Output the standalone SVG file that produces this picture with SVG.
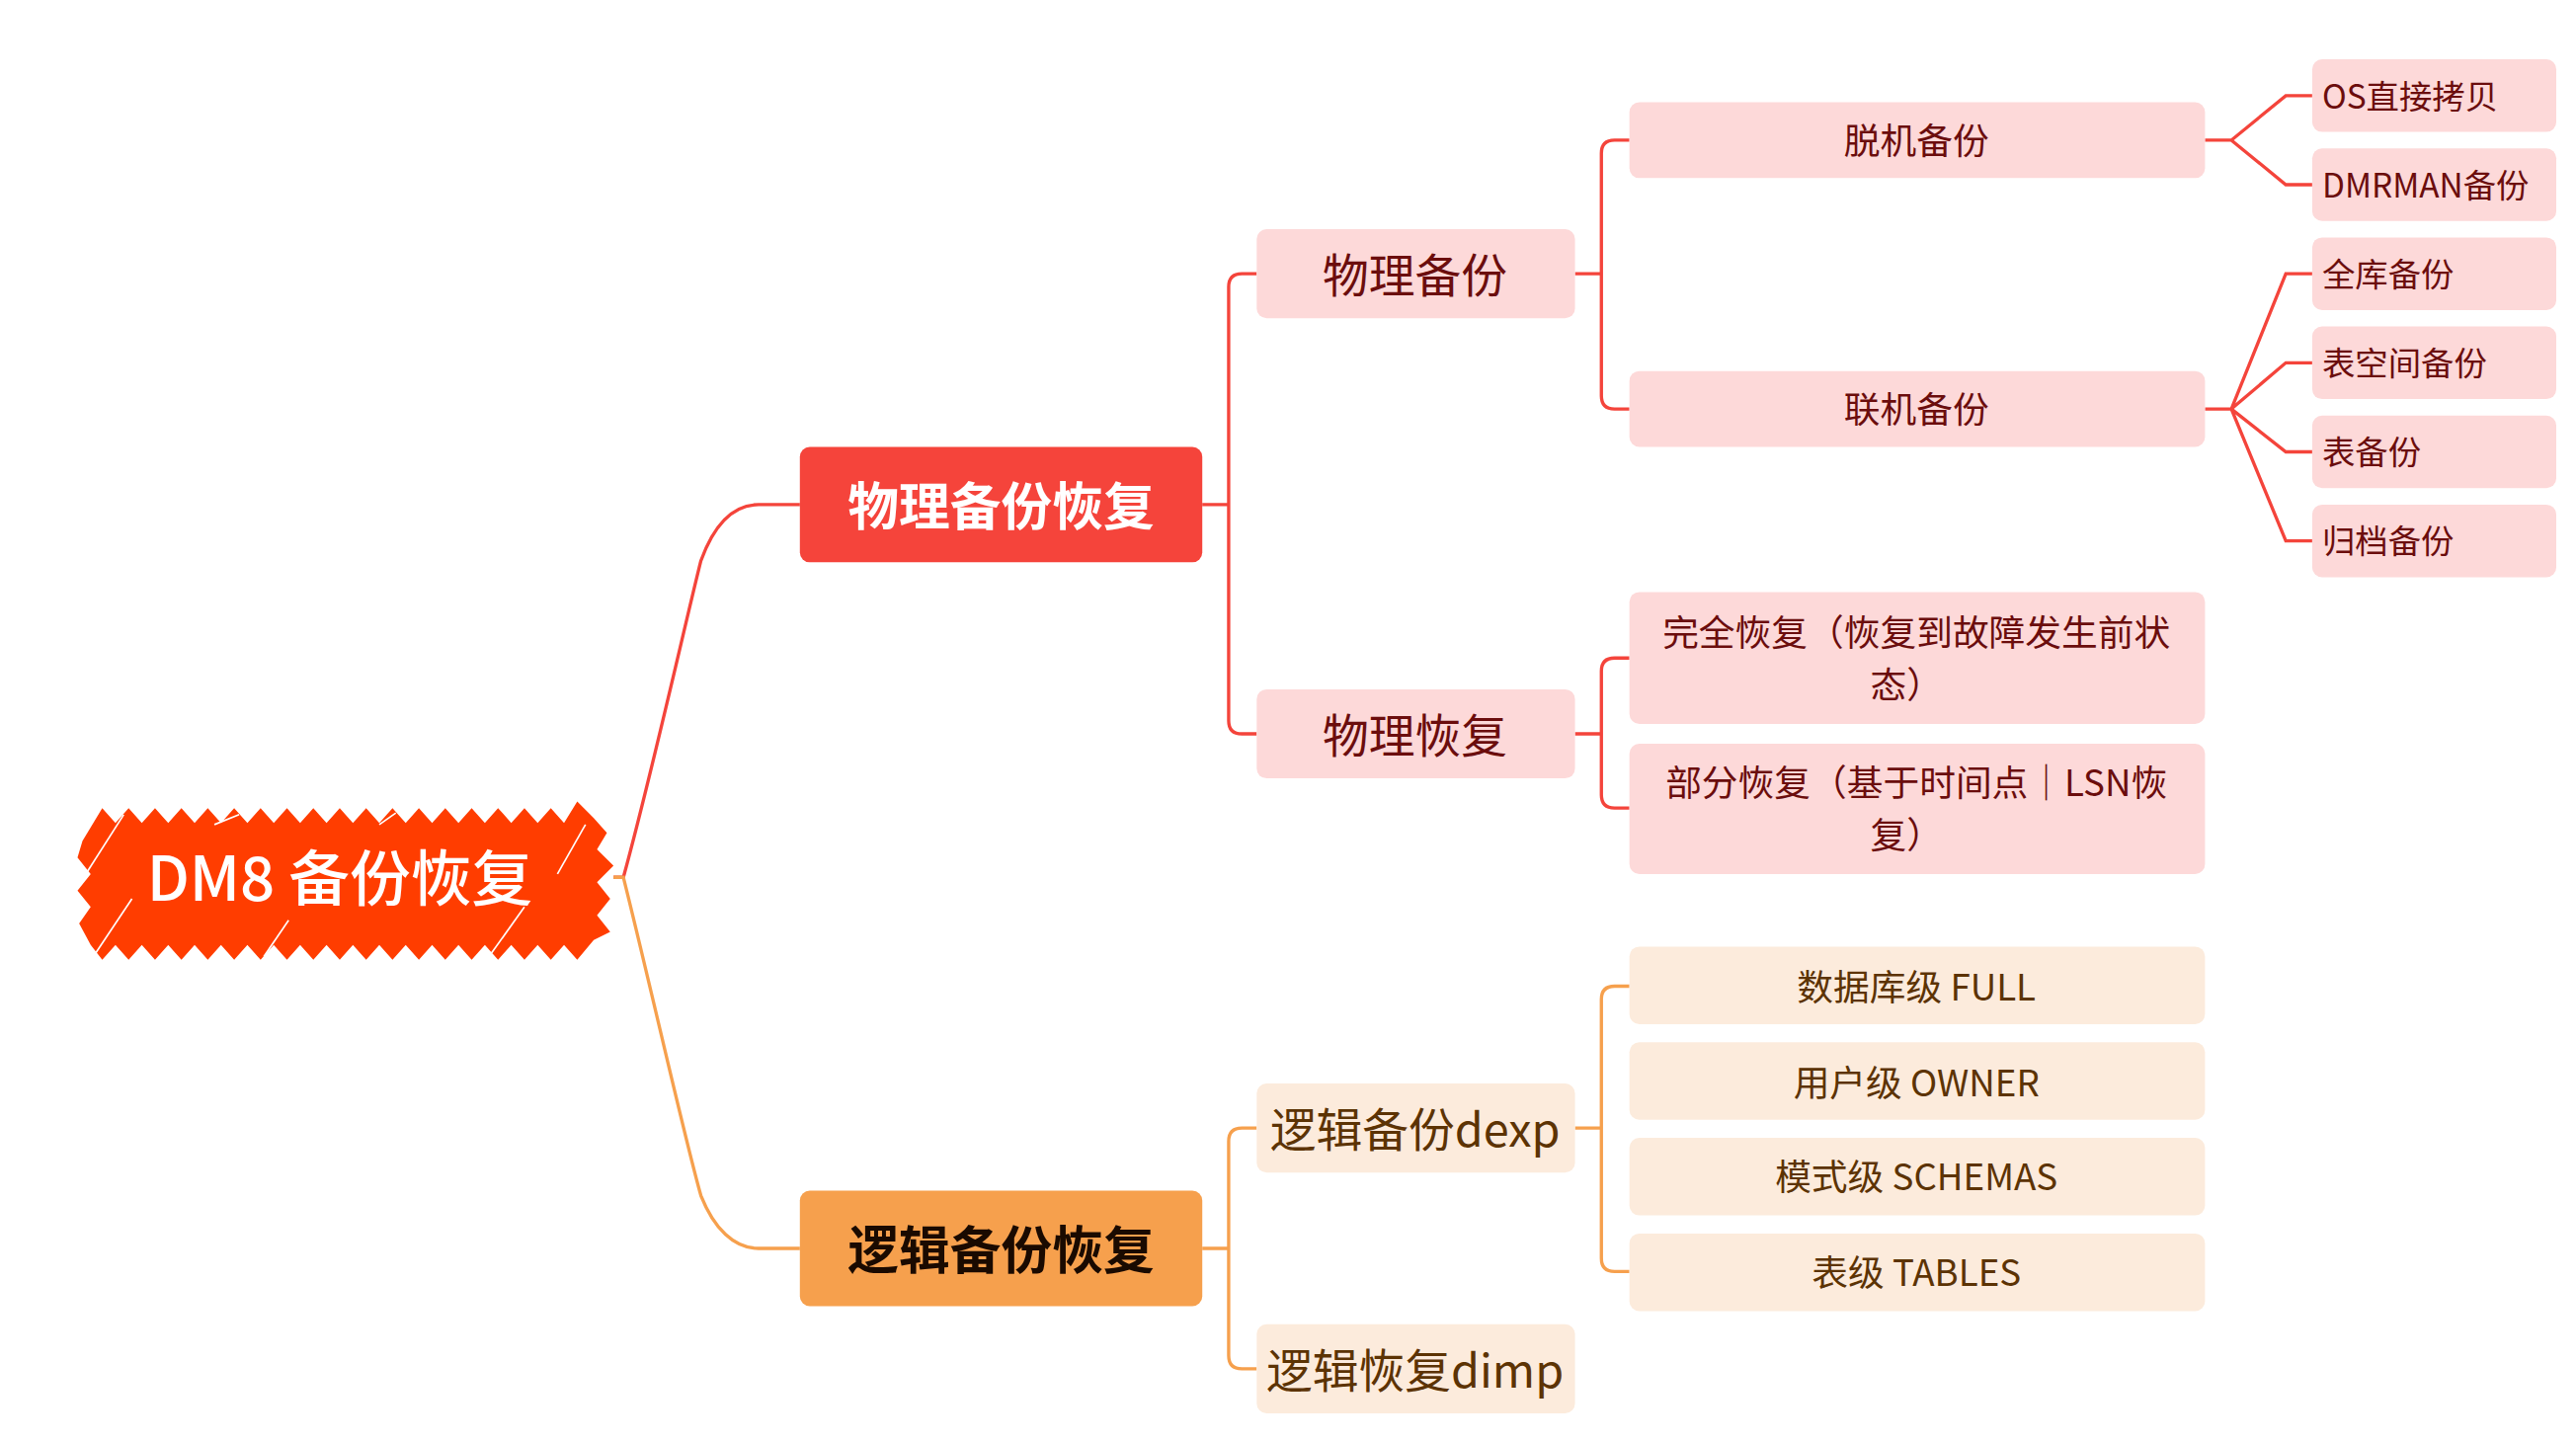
<svg xmlns="http://www.w3.org/2000/svg" width="2608" height="1460" viewBox="0 0 2608 1460">
<style>
text{font-family:"Noto Sans CJK SC","Noto Sans",sans-serif;text-anchor:middle;dominant-baseline:central}
.r2{fill:#fdd9d9}.o2{fill:#fcebdc}
.tr{fill:#6b0d0d}.to{fill:#5c3304}
.cr{fill:none;stroke:#f4443b;stroke-width:2}
.co{fill:none;stroke:#f6a04d;stroke-width:2}
.l4{text-anchor:start;font-size:20px}
</style>
<rect width="2608" height="1460" fill="#fff"/>
<g transform="scale(1.6697)">
<g id="connectors">
<path class="cr" d="M372,532 L378,532 C395,470 415,380 425,340 C433,318 445,306 460,306 L485,306"/>
<path class="co" d="M372,532 L378,532 C395,600 415,690 425,725 C433,745 445,757 460,757 L485,757"/>
<path class="cr" d="M729,306 H745 M762,166 H753 Q745,166 745,174 V437 Q745,445 753,445 H762"/>
<path class="co" d="M729,757 H745 M762,684 H753 Q745,684 745,692 V822 Q745,830 753,830 H762"/>
<path class="cr" d="M955,166 H971 M988,85 H979 Q971,85 971,93 V240 Q971,248 979,248 H988"/>
<path class="cr" d="M955,445 H971 M988,399 H979 Q971,399 971,407 V482 Q971,490 979,490 H988"/>
<path class="co" d="M955,684 H971 M988,598 H979 Q971,598 971,606 V763 Q971,771 979,771 H988"/>
<path class="cr" d="M1337,85 H1353 L1386,58 H1402 M1353,85 L1386,112 H1402"/>
<path class="cr" d="M1337,248 H1353 L1386,166 H1402 M1353,248 L1386,220 H1402 M1353,248 L1386,274 H1402 M1353,248 L1386,328 H1402"/>
</g>
<g id="root">
<path fill="#ff3d00" d="M50,510 L62,490 L70,499 L78,490 L86,499 L94,490 L102,499 L110,490 L118,499 L126,490 L134,499 L142,490 L150,499 L158,490 L166,499 L174,490 L182,499 L190,490 L198,499 L206,490 L214,499 L222,490 L230,499 L238,490 L246,499 L254,490 L262,499 L270,490 L278,499 L286,490 L294,499 L302,490 L310,499 L318,490 L326,499 L334,490 L342,499 L350,486 L360,496 L368,505 L362,515 L372,525 L362,535 L370,545 L362,555 L370,565 L360,570 L350,582 L342,573 L334,582 L326,573 L318,582 L310,573 L302,582 L294,573 L286,582 L278,573 L270,582 L262,573 L254,582 L246,573 L238,582 L230,573 L222,582 L214,573 L206,582 L198,573 L190,582 L182,573 L174,582 L166,573 L158,582 L150,573 L142,582 L134,573 L126,582 L118,573 L110,582 L102,573 L94,582 L86,573 L78,582 L70,573 L62,582 L55,573 L48,560 L55,550 L47,540 L55,530 L47,520 Z"/>
<g stroke="#fff" stroke-width="1">
<line x1="58" y1="578" x2="80" y2="545"/><line x1="52" y1="530" x2="75" y2="494"/><line x1="130" y1="500" x2="145" y2="494"/><line x1="160" y1="580" x2="175" y2="558"/><line x1="298" y1="578" x2="318" y2="550"/><line x1="338" y1="530" x2="355" y2="500"/><line x1="230" y1="500" x2="240" y2="493"/>
</g>
<text x="206" y="530" font-size="37" font-weight="500" fill="#fff">DM8 备份恢复</text>
</g>
<g id="n-phys"><rect x="485" y="271" width="244" height="70" rx="6" fill="#f5443b"/><text x="607" y="305" font-size="31" font-weight="bold" fill="#fff">物理备份恢复</text></g>
<g id="n-logic"><rect x="485" y="722" width="244" height="70" rx="6" fill="#f6a04d"/><text x="607" y="756" font-size="31" font-weight="bold" fill="#1a0a00">逻辑备份恢复</text></g>
<g id="n-pb"><rect class="r2" x="762" y="139" width="193" height="54" rx="6"/><text class="tr" x="858" y="165" font-size="28">物理备份</text></g>
<g id="n-pr"><rect class="r2" x="762" y="418" width="193" height="54" rx="6"/><text class="tr" x="858" y="444" font-size="28">物理恢复</text></g>
<g id="n-ld"><rect class="o2" x="762" y="657" width="193" height="54" rx="6"/><text class="to" x="858" y="683" font-size="28">逻辑备份dexp</text></g>
<g id="n-li"><rect class="o2" x="762" y="803" width="193" height="54" rx="6"/><text class="to" x="858" y="829" font-size="28">逻辑恢复dimp</text></g>
<g id="n-off"><rect class="r2" x="988" y="62" width="349" height="46" rx="6"/><text class="tr" x="1162" y="84" font-size="22">脱机备份</text></g>
<g id="n-on"><rect class="r2" x="988" y="225" width="349" height="46" rx="6"/><text class="tr" x="1162" y="247" font-size="22">联机备份</text></g>
<g id="n-full"><rect class="r2" x="988" y="359" width="349" height="80" rx="6"/><text class="tr" x="1162" y="382" font-size="22">完全恢复（恢复到故障发生前状</text><text class="tr" x="1156" y="414" font-size="22">态）</text></g>
<g id="n-part"><rect class="r2" x="988" y="451" width="349" height="79" rx="6"/><text class="tr" x="1162" y="473" font-size="22">部分恢复（基于时间点｜LSN恢</text><text class="tr" x="1156" y="505" font-size="22">复）</text></g>
<g id="n-db"><rect class="o2" x="988" y="574" width="349" height="47" rx="6"/><text class="to" x="1162" y="597" font-size="22">数据库级 FULL</text></g>
<g id="n-user"><rect class="o2" x="988" y="632" width="349" height="47" rx="6"/><text class="to" x="1162" y="655" font-size="22">用户级 OWNER</text></g>
<g id="n-sch"><rect class="o2" x="988" y="690" width="349" height="47" rx="6"/><text class="to" x="1162" y="712" font-size="22">模式级 SCHEMAS</text></g>
<g id="n-tab"><rect class="o2" x="988" y="748" width="349" height="47" rx="6"/><text class="to" x="1162" y="770" font-size="22">表级 TABLES</text></g>
<g id="n-os"><rect class="r2" x="1402" y="36" width="148" height="44" rx="6"/><text class="tr l4" x="1408" y="57">OS直接拷贝</text></g>
<g id="n-rman"><rect class="r2" x="1402" y="90" width="148" height="44" rx="6"/><text class="tr l4" x="1408" y="111">DMRMAN备份</text></g>
<g id="n-all"><rect class="r2" x="1402" y="144" width="148" height="44" rx="6"/><text class="tr l4" x="1408" y="165">全库备份</text></g>
<g id="n-ts"><rect class="r2" x="1402" y="198" width="148" height="44" rx="6"/><text class="tr l4" x="1408" y="219">表空间备份</text></g>
<g id="n-tb"><rect class="r2" x="1402" y="252" width="148" height="44" rx="6"/><text class="tr l4" x="1408" y="273">表备份</text></g>
<g id="n-arc"><rect class="r2" x="1402" y="306" width="148" height="44" rx="6"/><text class="tr l4" x="1408" y="327">归档备份</text></g>
</g>
</svg>
